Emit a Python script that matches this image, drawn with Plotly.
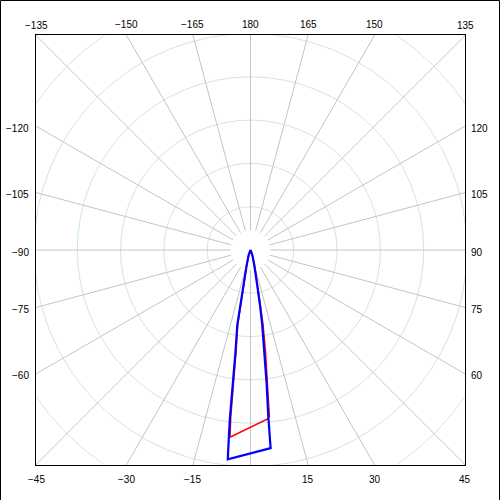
import numpy as np
import plotly.graph_objects as go

# Angles in degrees (0 = straight down, positive to the right), values in grid-circle units
blue_angle = [-90, -20, -14.2, -11.6, -10.8, -10.0, -8.4, -7.6, -7.0, -6.6, -6.2,
              5.8, 5.9, 6.1, 6.9, 7.8, 8.9, 9.8, 11.0, 14.2, 20, 90]
blue_value = [0, 0.12, 0.36, 0.82, 1.29, 1.76, 2.38, 3.10, 3.89, 4.35, 4.86,
              4.60, 4.33, 3.87, 3.09, 2.38, 1.75, 1.29, 0.82, 0.36, 0.12, 0]

red_angle = [-90, -20, -14.2, -11.4, -10.5, -9.7, -8.1, -7.3, -6.75, -6.25,
             5.8, 6.45, 7.3, 8.35, 9.5, 10.3, 11.3, 14.2, 20, 90]
red_value = [0, 0.12, 0.36, 0.82, 1.29, 1.76, 2.38, 3.10, 3.89, 4.35,
             3.92, 3.87, 3.09, 2.38, 1.75, 1.29, 0.82, 0.36, 0.12, 0]

circle_values = [1, 2, 3, 4, 5, 6, 7]
spoke_angles = list(range(-180, 180, 15))
tick_angles = [-165, -150, -135, -120, -105, -90, -75, -60, -45, -30, -15,
               15, 30, 45, 60, 75, 90, 105, 120, 135, 150, 165, 180]
tick_text = ["\u2212165", "\u2212150", "\u2212135", "\u2212120", "\u2212105", "\u221290",
             "\u221275", "\u221260", "\u221245", "\u221230", "\u221215",
             "15", "30", "45", "60", "75", "90", "105", "120", "135", "150", "165", "180"]

PX = 43.3          # pixels per grid unit
RX = 214.5 / PX    # half-range in x
RY = 215.0 / PX    # half-range in y
SPOKE_IN = 20 / PX


def to_xy(angles, values):
    a = np.radians(np.asarray(angles, dtype=float))
    v = np.asarray(values, dtype=float)
    return v * np.sin(a), -v * np.cos(a)


fig = go.Figure()
rx, ry = to_xy(red_angle, red_value)
bx, by = to_xy(blue_angle, blue_value)
fig.add_trace(go.Scatter(x=rx, y=ry, mode="lines", line=dict(color="#ff0000", width=1.6),
                         hoverinfo="skip", showlegend=False))
fig.add_trace(go.Scatter(x=bx, y=by, mode="lines", line=dict(color="#0000ff", width=2.2),
                         hoverinfo="skip", showlegend=False))

shapes = []
for r in circle_values:
    shapes.append(dict(type="circle", xref="x", yref="y", x0=-r, y0=-r, x1=r, y1=r,
                       line=dict(color="#cce6ee", width=1), layer="below"))
for a in spoke_angles:
    t = np.radians(a)
    shapes.append(dict(type="line", xref="x", yref="y",
                       x0=SPOKE_IN * np.sin(t), y0=-SPOKE_IN * np.cos(t),
                       x1=9 * np.sin(t), y1=-9 * np.cos(t),
                       line=dict(color="#c4c4c4", width=1), layer="below"))
# outer frame of the image
W, H = 429, 430
shapes.append(dict(type="rect", xref="paper", yref="paper",
                   x0=(0.5 - 36) / W, x1=(499.5 - 36) / W,
                   y0=(35 - 499.5) / H + 0, y1=(35 - 0.5) / H + 1,
                   line=dict(color="black", width=1), layer="above"))

annotations = []
for a, txt in zip(tick_angles, tick_text):
    t = np.radians(a)
    dx, dy = np.sin(t), -np.cos(t)
    cands = []
    if abs(dx) > 1e-9:
        cands.append(RX / abs(dx))
    if abs(dy) > 1e-9:
        cands.append(RY / abs(dy))
    k = min(cands)
    px, py = k * dx, k * dy
    ann = dict(x=px, y=py, xref="x", yref="y", text=txt, showarrow=False,
               font=dict(family="Liberation Sans", size=10, color="black"))
    if abs(a) <= 45:
        ann.update(xanchor="center", yanchor="top", yshift=-7)
    elif abs(a) >= 135:
        ann.update(xanchor="center", yanchor="bottom", yshift=3)
    elif a > 0:
        ann.update(xanchor="left", yanchor="middle", xshift=4, yshift=-2)
    else:
        ann.update(xanchor="right", yanchor="middle", xshift=-5, yshift=-2)
    annotations.append(ann)

fig.update_layout(
    width=500, height=500,
    margin=dict(l=36, r=35, t=35, b=35, pad=0),
    paper_bgcolor="white", plot_bgcolor="white",
    shapes=shapes, annotations=annotations,
    xaxis=dict(range=[-RX, RX], showgrid=False, zeroline=False, showticklabels=False,
               ticks="", showline=True, mirror=True, linecolor="black", linewidth=1,
               fixedrange=True),
    yaxis=dict(range=[-RY, RY], showgrid=False, zeroline=False, showticklabels=False,
               ticks="", showline=True, mirror=True, linecolor="black", linewidth=1,
               fixedrange=True),
)
fig.write_html("out.html", config={"displayModeBar": False},
               post_script="document.body.style.margin='0';document.body.style.padding='0';")
